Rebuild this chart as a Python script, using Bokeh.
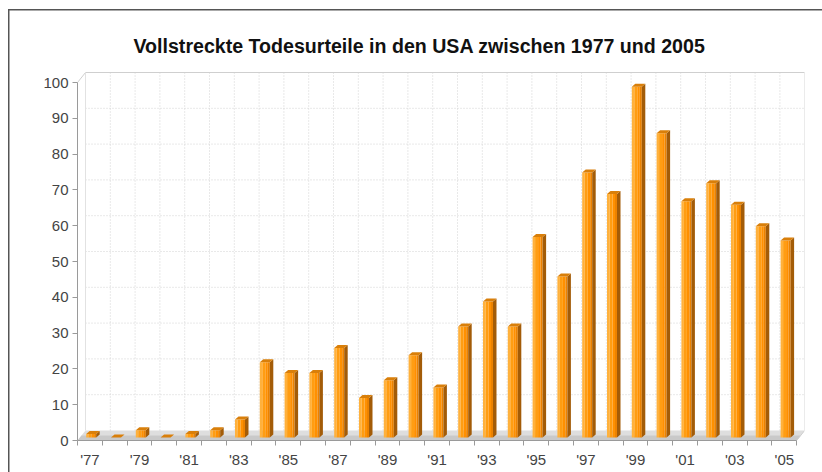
from bokeh.plotting import figure
from bokeh.models import FixedTicker, LinearAxis, Range1d
from bokeh.embed import file_html
from bokeh.resources import INLINE

# ---------------- data ----------------
years = list(range(1977, 2006))
executions = [1, 0, 2, 0, 1, 2, 5, 21, 18, 18, 25, 11, 16, 23, 14,
              31, 38, 31, 56, 45, 74, 68, 98, 85, 66, 71, 65, 59, 55]
tick_years = years[::2]
tick_labels = ["'77", "'79", "'81", "'83", "'85", "'87", "'89", "'91",
               "'93", "'95", "'97", "'99", "'01", "'03", "'05"]
y_ticks = [0, 10, 20, 30, 40, 50, 60, 70, 80, 90, 100]
title_text = "Vollstreckte Todesurteile in den USA zwischen 1977 und 2005"

# ---------------- layout constants ----------------
PXX = 1 / 24.8      # years per pixel
PXY = 1 / 3.58      # units per pixel
x0 = years[0] - 0.5
x1 = years[-1] + 0.5
DX, DY = 8 * PXX, 10 * PXY          # wall depth
FW = 10 * PXX                       # bar front width
BOX, BOY = 1.3 * PXX, 3 * PXY       # bar offset into floor
BDX, BDY = 3.5 * PXX, 3 * PXY       # bar depth

W, H = 822, 472
ML, MR, MT, MB = 77, 18, 71, 32
p = figure(width=W, height=H,
           x_range=Range1d(x0, x0 + (W - ML - MR) * PXX),
           y_range=Range1d(0, (H - MT - MB) * PXY),
           x_axis_type=None, y_axis_type=None,
           output_backend="svg", toolbar_location=None,
           min_border_left=ML, min_border_right=MR,
           min_border_top=MT, min_border_bottom=MB)
p.outline_line_color = None
p.background_fill_color = "white"
p.border_fill_color = None
# outer frame line of the picture (left and top edges), drawn behind the canvas
p.styles = {
    "background-color": "white",
    "background-image": "linear-gradient(#555555, #555555), linear-gradient(#555555, #555555)",
    "background-size": "1.5px 100%, 100% 1.5px",
    "background-position": "8px 9px, 8px 9px",
    "background-repeat": "no-repeat",
}

# title
p.title.text = title_text
p.title.align = "left"
p.title.offset = 56
p.title.standoff = 30
p.title.text_font = "Liberation Sans"
p.title.text_font_size = "19.6px"
p.title.text_font_style = "bold"
p.title.text_color = "#111111"

# floor
p.patch([x0, x1, x1 + DX, x0 + DX], [0, 0, DY, DY],
        fill_color="#dedede", line_color=None)
p.patch([x0, x1, x1 + DX / 2, x0 + DX / 2], [0, 0, DY / 2, DY / 2],
        fill_color="#c9c9c9", line_color=None)

# wall gridlines
gy = [v + DY for v in y_ticks[1:-1]]
p.segment(x0=[x0 + DX] * len(gy), y0=gy, x1=[x1 + DX] * len(gy), y1=gy,
          line_color="#d2d2d2", line_width=1, line_dash="1 2")
bounds = [y - 0.5 for y in years] + [years[-1] + 0.5]
gx = [b + DX for b in bounds[1:-1]]
p.segment(x0=gx, y0=[DY] * len(gx), x1=gx, y1=[100 + DY] * len(gx),
          line_color="#d2d2d2", line_width=1, line_dash="1 2")
# wall outline
p.line([x0, x0 + DX, x1 + DX, x1 + DX, x1],
       [100, 100 + DY, 100 + DY, DY, 0],
       line_color="#cfcfcf", line_width=1)
p.line([x0 + DX, x0 + DX], [DY, 100 + DY], line_color="#e2e2e2", line_width=1)

# bars: front face strips (gradient)
strips = [(0.0, 0.25, "#ffb13c"), (0.25, 0.55, "#ff9d12"),
          (0.55, 0.8, "#ff9000"), (0.8, 1.0, "#ec8200")]
lefts = [x - FW / 2 + BOX for x in years]
rights = [l + FW for l in lefts]
tops = [v + BOY for v in executions]
for a, b, c in strips:
    p.vbar(x=[l + FW * (a + b) / 2 for l in lefts], width=FW * (b - a),
           bottom=BOY, top=tops, fill_color=c, line_color=None)
# side faces
p.patches([[r, r + BDX, r + BDX, r] for r in rights],
          [[BOY, BOY + BDY, t + BDY, t] for t in tops],
          fill_color="#a35c08", line_color=None)
# top faces
p.patches([[l, r, r + BDX, l + BDX] for l, r in zip(lefts, rights)],
          [[t, t, t + BDY, t + BDY] for t in tops],
          fill_color="#d97f0a", line_color=None)

# axes
yaxis = LinearAxis(ticker=FixedTicker(ticks=y_ticks), bounds=(0, 100))
yaxis.axis_line_color = "#9a9a9a"
yaxis.major_tick_line_color = "#9a9a9a"
yaxis.major_tick_out = 5
yaxis.major_tick_in = 0
yaxis.minor_tick_line_color = None
yaxis.major_label_standoff = 4
yaxis.major_label_text_font = "Liberation Sans"
yaxis.major_label_text_font_size = "15px"
yaxis.major_label_text_color = "#444444"
p.add_layout(yaxis, "left")

xaxis = LinearAxis(ticker=FixedTicker(ticks=tick_years, minor_ticks=bounds),
                   bounds=(x0, x1))
xaxis.major_label_overrides = {y: l for y, l in zip(tick_years, tick_labels)}
xaxis.axis_line_color = "#9a9a9a"
xaxis.major_tick_line_color = None
xaxis.minor_tick_line_color = "#9a9a9a"
xaxis.minor_tick_out = 5
xaxis.minor_tick_in = 0
xaxis.major_label_standoff = 4
xaxis.major_label_text_font = "Liberation Sans"
xaxis.major_label_text_font_size = "15px"
xaxis.major_label_text_color = "#444444"
p.add_layout(xaxis, "below")

open("out.html", "w").write(file_html(p, INLINE))
